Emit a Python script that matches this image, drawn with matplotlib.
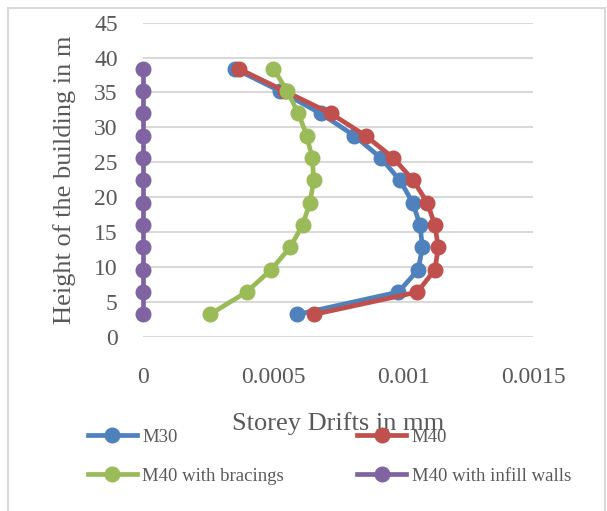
import matplotlib.pyplot as plt
from matplotlib.patches import Rectangle

# 楼层高度 (m)
heights = [3.2, 6.4, 9.6, 12.8, 16.0, 19.2, 22.4, 25.6, 28.8, 32.0, 35.2, 38.4]

# 层间位移
m30 = [0.000594, 0.000982, 0.001058, 0.001074, 0.001065, 0.001037,
       0.000988, 0.000915, 0.000813, 0.000683, 0.000527, 0.000354]
m40 = [0.000659, 0.001055, 0.001122, 0.001135, 0.001122, 0.001093,
       0.001039, 0.000963, 0.000856, 0.000722, 0.000545, 0.000369]
m40_bracings = [0.000258, 0.000399, 0.000493, 0.000566, 0.000614, 0.000642,
                0.000657, 0.000651, 0.000630, 0.000598, 0.000555, 0.000502]
m40_infill = [0.0] * 12

series_names = ['M30', 'M40', 'M40 with bracings', 'M40 with infill walls']
series_colors = ['#4F81BD', '#C0504D', '#9BBB59', '#8064A2']

x_ticks = [0, 0.0005, 0.001, 0.0015]
x_tick_labels = ['0', '0.0005', '0.001', '0.0015']
y_ticks = list(range(0, 50, 5))

text_color = '#595959'
plt.rcParams['font.family'] = ['Liberation Serif', 'DejaVu Serif']

fig = plt.figure(figsize=(6.07, 5.11), dpi=100)
ax = fig.add_axes([0.2351, 0.3411, 0.6435, 0.6145])

lines = []
for vals, name, color in zip([m30, m40, m40_bracings, m40_infill], series_names, series_colors):
    ln, = ax.plot(vals, heights, color=color, marker='o', linewidth=3.4,
                  markersize=10.5, label=name, zorder=3, clip_on=False)
    lines.append(ln)

ax.set_xlim(0, 0.0015)
ax.set_ylim(0, 45)
ax.set_xticks(x_ticks, x_tick_labels)
ax.set_yticks(y_ticks)
ax.grid(axis='y', color='#D9D9D9', linewidth=1.5, zorder=0)
ax.set_axisbelow(True)
for spine in ax.spines.values():
    spine.set_visible(False)
ax.tick_params(axis='both', length=0, labelsize=17, labelcolor=text_color)
ax.tick_params(axis='x', pad=22)
ax.tick_params(axis='y', pad=18)

fig.text(65 / 607, 1 - 180 / 511, 'Height of the building in m', rotation=90,
         ha='center', va='center', fontsize=19, color=text_color)
fig.text(338 / 607, 1 - 424 / 511, 'Storey Drifts in mm',
         ha='center', va='center', fontsize=19, color=text_color)

# 图例 (两行, 按行排列)
order = [0, 2, 1, 3]
leg = fig.legend(handles=[lines[i] for i in order],
                 labels=[series_names[i] for i in order], ncol=2,
                 loc='upper left', bbox_to_anchor=(71 / 607, 1 - 412 / 511),
                 frameon=False, fontsize=13.5, labelcolor=text_color,
                 handlelength=2.6, columnspacing=3.9, handletextpad=0.3,
                 labelspacing=1.15)

# 图表外框
fig.patches.append(Rectangle((8 / 607, -0.02), 597 / 607, 1 - 8 / 511 + 0.02,
                             transform=fig.transFigure, fill=False,
                             edgecolor='#D9D9D9', linewidth=1.5))

fig.savefig('out.png', dpi=100)
